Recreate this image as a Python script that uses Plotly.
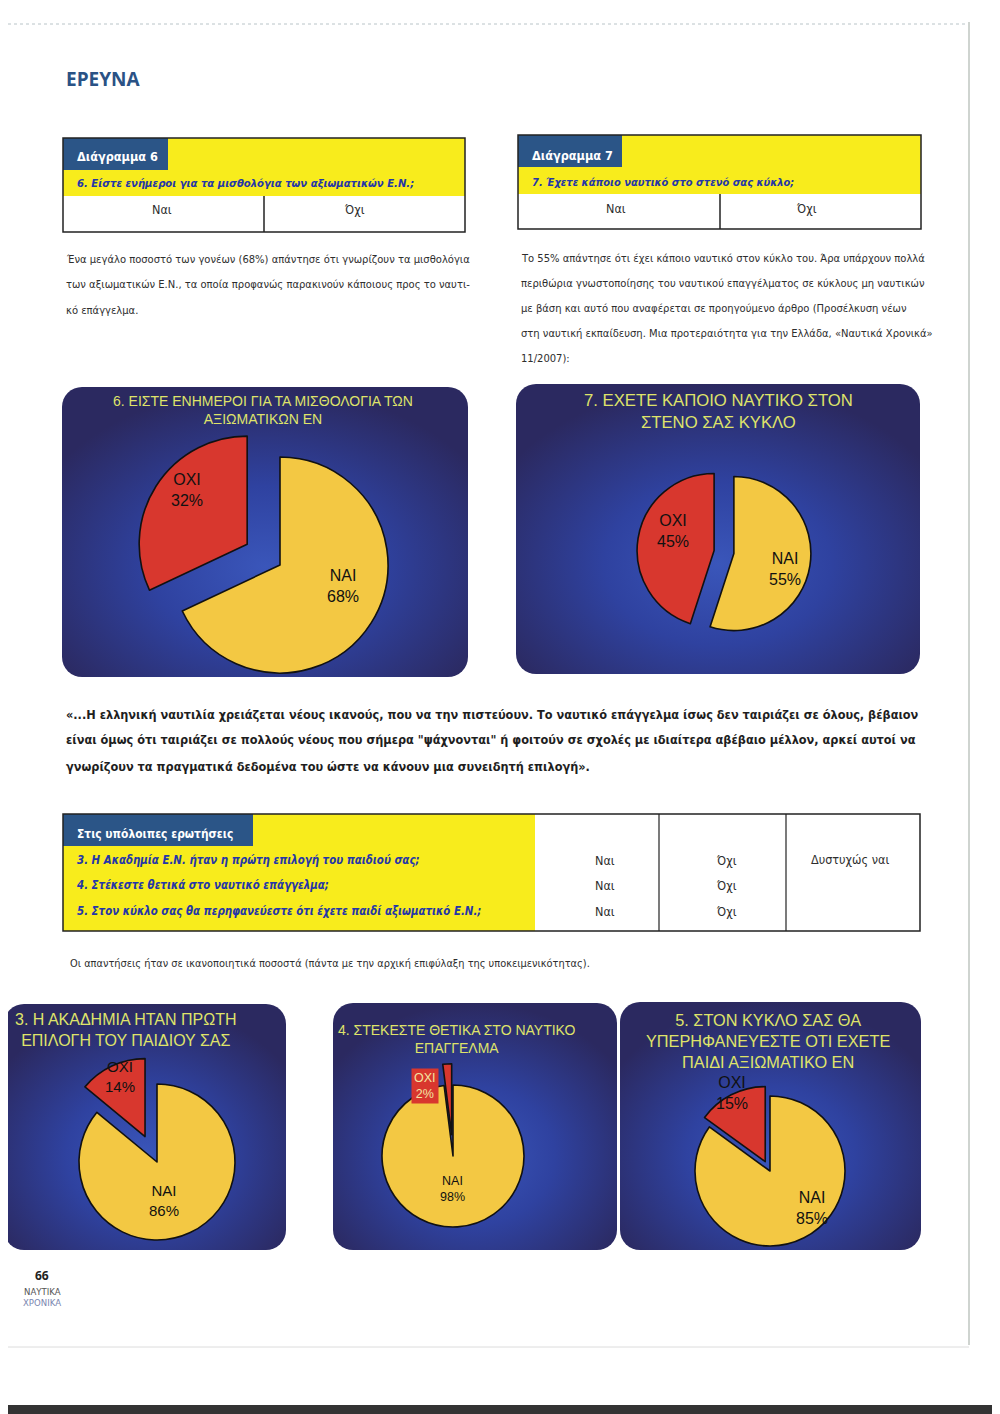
import base64
import plotly.graph_objects as go

# ---------------- data ----------------
chart_ids = ["6", "7", "3", "4", "5"]
chart_titles = [
    "6. ΕΙΣΤΕ ΕΝΗΜΕΡΟΙ ΓΙΑ ΤΑ ΜΙΣΘΟΛΟΓΙΑ ΤΩΝ<br>ΑΞΙΩΜΑΤΙΚΩΝ ΕΝ",
    "7. ΕΧΕΤΕ ΚΑΠΟΙΟ ΝΑΥΤΙΚΟ ΣΤΟΝ<br>ΣΤΕΝΟ ΣΑΣ ΚΥΚΛΟ",
    "3. Η ΑΚΑΔΗΜΙΑ ΗΤΑΝ ΠΡΩΤΗ<br>ΕΠΙΛΟΓΗ ΤΟΥ ΠΑΙΔΙΟΥ ΣΑΣ",
    "4. ΣΤΕΚΕΣΤΕ ΘΕΤΙΚΑ ΣΤΟ ΝΑΥΤΙΚΟ<br>ΕΠΑΓΓΕΛΜΑ",
    "5. ΣΤΟΝ ΚΥΚΛΟ ΣΑΣ ΘΑ<br>ΥΠΕΡΗΦΑΝΕΥΕΣΤΕ ΟΤΙ ΕΧΕΤΕ<br>ΠΑΙΔΙ ΑΞΙΩΜΑΤΙΚΟ ΕΝ",
]
slice_labels = ["ΝΑΙ", "ΟΧΙ"]
yes_values = [68, 55, 86, 98, 85]
no_values = [32, 45, 14, 2, 15]

page_title = "ΕΡΕΥΝΑ"
box6_tab = "Διάγραμμα 6"
box6_question = "6. Είστε ενήμεροι για τα μισθολόγια των αξιωματικών Ε.Ν.;"
box7_tab = "Διάγραμμα 7"
box7_question = "7. Έχετε κάποιο ναυτικό στο στενό σας κύκλο;"
answer_yes = "Ναι"
answer_no = "Όχι"
answer_sadly = "Δυστυχώς ναι"
para6_lines = [
    "Ένα μεγάλο ποσοστό των γονέων (68%) απάντησε ότι γνωρίζουν τα μισθολόγια",
    "των αξιωματικών Ε.Ν., τα οποία προφανώς παρακινούν κάποιους προς το ναυτι-",
    "κό επάγγελμα.",
]
para7_lines = [
    "Το 55% απάντησε ότι έχει κάποιο ναυτικό στον κύκλο του. Άρα υπάρχουν πολλά",
    "περιθώρια γνωστοποίησης του ναυτικού επαγγέλματος σε κύκλους μη ναυτικών",
    "με βάση και αυτό που αναφέρεται σε προηγούμενο άρθρο (Προσέλκυση νέων",
    "στη ναυτική εκπαίδευση. Μια προτεραιότητα για την Ελλάδα, «Ναυτικά Χρονικά»",
    "11/2007):",
]
quote_lines = [
    "«...Η ελληνική ναυτιλία χρειάζεται νέους ικανούς, που να την πιστεύουν. Το ναυτικό επάγγελμα ίσως δεν ταιριάζει σε όλους, βέβαιον",
    "είναι όμως ότι ταιριάζει σε πολλούς νέους που σήμερα \"ψάχνονται\" ή φοιτούν σε σχολές με ιδιαίτερα αβέβαιο μέλλον, αρκεί αυτοί να",
    "γνωρίζουν τα πραγματικά δεδομένα του ώστε να κάνουν μια συνειδητή επιλογή».",
]
rest_tab = "Στις υπόλοιπες ερωτήσεις"
rest_questions = [
    "3. Η Ακαδημία Ε.Ν. ήταν η πρώτη επιλογή του παιδιού σας;",
    "4. Στέκεστε θετικά στο ναυτικό επάγγελμα;",
    "5. Στον κύκλο σας θα περηφανεύεστε ότι έχετε παιδί αξιωματικό Ε.Ν.;",
]
note_text = "Οι απαντήσεις ήταν σε ικανοποιητικά ποσοστά (πάντα με την αρχική επιφύλαξη της υποκειμενικότητας)."
footer_page = "66"
footer_mag = ["ΝΑΥΤΙΚΑ", "ΧΡΟΝΙΚΑ"]

# ---------------- layout helpers ----------------
# page is 1000x1414; the html body has an 8px margin, so the figure is 992x1406
OFF = 8
FW, FH = 1000 - OFF, 1414 - OFF
NARROW = "DejaVu Sans Condensed, Liberation Sans Narrow, Roboto, sans-serif"
ARIAL = "Liberation Sans, Arial, sans-serif"
YELLOW_BOX = "#f8ec1c"
BLUE_TAB = "#2b5587"
Q_BLUE = "#2436a8"
TEXT = "#2e2e2e"
PIE_YELLOW = "#f3c843"
PIE_RED = "#d8372e"
TITLE_COL = "#dfe36a"


def px(x):
    return (x - OFF) / FW


def py(y):
    return 1 - (y - OFF) / FH


shapes, annotations, images = [], [], []


def rect(x0, y0, x1, y1, fill=None, line=None, lw=1.5, layer="below"):
    shapes.append(dict(type="rect", xref="paper", yref="paper",
                       x0=px(x0), x1=px(x1), y0=py(y1), y1=py(y0),
                       fillcolor=fill if fill else "rgba(0,0,0,0)",
                       line=dict(color=line if line else "rgba(0,0,0,0)", width=lw if line else 0),
                       layer=layer))


def line(x0, y0, x1, y1, color="#222", lw=1.5, dash="solid"):
    shapes.append(dict(type="line", xref="paper", yref="paper",
                       x0=px(x0), x1=px(x1), y0=py(y0), y1=py(y1),
                       line=dict(color=color, width=lw, dash=dash)))


def ann(x, y, text, size=14, color=TEXT, family=NARROW, xanchor="left", yanchor="middle", **kw):
    annotations.append(dict(x=px(x), y=py(y), xref="paper", yref="paper", text=text,
                            showarrow=False, xanchor=xanchor, yanchor=yanchor,
                            font=dict(size=size, color=color, family=family), **kw))


def panel(x0, y0, x1, y1, rx=20):
    w, h = x1 - x0, y1 - y0
    svg = (f'<svg xmlns="http://www.w3.org/2000/svg" width="{w}" height="{h}" viewBox="0 0 {w} {h}" preserveAspectRatio="none">'
           '<defs><radialGradient id="g" cx="50%" cy="62%" r="62%">'
           '<stop offset="0" stop-color="#3a56ba"/><stop offset="0.45" stop-color="#2f42a0"/>'
           '<stop offset="1" stop-color="#2b2960"/></radialGradient></defs>'
           f'<rect x="0" y="0" width="{w}" height="{h}" rx="{rx}" ry="{rx}" fill="url(#g)"/></svg>')
    src = "data:image/svg+xml;base64," + base64.b64encode(svg.encode("utf-8")).decode("ascii")
    images.append(dict(source=src, xref="paper", yref="paper", x=px(x0), y=py(y0),
                       sizex=w / FW, sizey=h / FH, sizing="stretch",
                       xanchor="left", yanchor="top", layer="below"))


# ---------------- page decorations ----------------
line(8, 24, 968, 24, color="#b9c4c8", lw=1, dash="dot")
line(969, 22, 969, 1345, color="#cfd4d0", lw=2)
line(8, 1347, 969, 1347, color="#dcdcdc", lw=1)
rect(8, 1405, 1000, 1414, fill="#333333")

ann(64, 79, f"<b>{page_title}</b>", size=19, color="#2a5285", family="Open Sans, sans-serif")

# ---------------- box 6 ----------------
rect(63, 138, 465, 196, fill=YELLOW_BOX)
rect(63, 138, 168, 170, fill=BLUE_TAB)
rect(63, 138, 465, 232, line="#222", lw=1.5)
line(264, 196, 264, 232)
ann(75, 156, f"<b>{box6_tab}</b>", size=12.6, color="white")
ann(75, 183, f"<b><i>{box6_question}</i></b>", size=11.2, color=Q_BLUE)
ann(162, 210, answer_yes, size=12.5, xanchor="center")
ann(354, 210, answer_no, size=12.5, xanchor="center")
for i, t in enumerate(para6_lines):
    ann(64, 259 + 25.5 * i, t, size=11.1)

# ---------------- box 7 ----------------
rect(518, 135, 921, 194, fill=YELLOW_BOX)
rect(518, 135, 622, 167, fill=BLUE_TAB)
rect(518, 135, 921, 229, line="#222", lw=1.5)
line(720, 194, 720, 229)
ann(530, 155, f"<b>{box7_tab}</b>", size=12.6, color="white")
ann(530, 182, f"<b><i>{box7_question}</i></b>", size=11.0, color=Q_BLUE)
ann(616, 208, answer_yes, size=12.5, xanchor="center")
ann(806, 208, answer_no, size=12.5, xanchor="center")
for i, t in enumerate(para7_lines):
    ann(519, 258 + 25.2 * i, t, size=11.1)

# ---------------- quote ----------------
for i, t in enumerate(quote_lines):
    ann(64, 714 + 26 * i, f"<b>{t}</b>", size=12.6, color="#1e1e1e")

# ---------------- rest table ----------------
rect(63, 814, 535, 931, fill=YELLOW_BOX)
rect(63, 814, 253, 846, fill=BLUE_TAB)
rect(63, 814, 920, 931, line="#222", lw=1.5)
line(659, 814, 659, 931, lw=1.2)
line(786, 814, 786, 931, lw=1.2)
ann(75, 834, f"<b>{rest_tab}</b>", size=11.9, color="white")
for i, q in enumerate(rest_questions):
    ann(75, 860 + 25.5 * i, f"<b><i>{q}</i></b>", size=11.4, color=Q_BLUE)
    ann(605, 860 + 25.5 * i, answer_yes, size=12.5, xanchor="center")
    ann(726, 860 + 25.5 * i, answer_no, size=12.5, xanchor="center")
ann(850, 859, answer_sadly, size=12.5, xanchor="center")
ann(68, 963, note_text, size=10.9)

# ---------------- footer ----------------
ann(42, 1275, f"<b>{footer_page}</b>", size=12, color="#222", family="Open Sans, sans-serif", xanchor="center")
ann(42, 1291, footer_mag[0], size=9.5, color="#555", xanchor="center")
ann(42, 1302, footer_mag[1], size=9.5, color="#7a86b0", xanchor="center")

# ---------------- chart panels ----------------
panels = [(62, 387, 468, 677), (516, 384, 920, 674), (4, 1004, 286, 1250),
          (333, 1003, 617, 1250), (620, 1002, 921, 1250)]
# pie centre (px), radius (px), pull per slice [yes, no]
pie_geom = [((280, 565), 108, [0, 0.36]),
            ((724, 552), 77, [0.13, 0.13]),
            ((157, 1162), 78, [0, 0.36]),
            ((453, 1156), 71, [0, 0.3]),
            ((770, 1171), 75, [0, 0.14])]
title_pos = [((263, 410), 14), ((718, 412), 16.7), ((126, 1030), 16), ((457, 1039), 14), ((768, 1041), 16.3)]
yes_lbl_pos = [((343, 586), 16), ((785, 569), 16), ((164, 1200), 15), ((452, 1189), 12.5), ((812, 1208), 16)]
no_lbl_pos = [((187, 490), 16), ((673, 531), 16), ((120, 1076), 15), ((425, 1086), 12.5), ((732, 1093), 16)]

fig = go.Figure()
for i in range(len(chart_ids)):
    panel(*panels[i])
    (cx, cy), r, pull = pie_geom[i]
    half = r * (1 + max(pull))
    fig.add_trace(go.Pie(
        labels=slice_labels, values=[yes_values[i], no_values[i]],
        sort=False, direction="clockwise", rotation=0, pull=pull,
        marker=dict(colors=[PIE_YELLOW, PIE_RED], line=dict(color="#111111", width=1.6)),
        textinfo="none", hoverinfo="label+percent", showlegend=False,
        name=f"Διάγραμμα {chart_ids[i]}",
        domain=dict(x=[px(cx - half), px(cx + half)], y=[py(cy + half), py(cy - half)]),
    ))
    (tx, ty), ts = title_pos[i]
    ann(tx, ty, chart_titles[i], size=ts, color=TITLE_COL, family=ARIAL, xanchor="center")
    (yx, yy), ys = yes_lbl_pos[i]
    ann(yx, yy, f"{slice_labels[0]}<br>{yes_values[i]}%", size=ys, color="#111", family=ARIAL, xanchor="center")
    (nx, ny), ns = no_lbl_pos[i]
    if no_values[i] < 5:
        ann(nx, ny, f"{slice_labels[1]}<br>{no_values[i]}%", size=ns, color="#f3e4a2", family=ARIAL,
            xanchor="center", bgcolor=PIE_RED, borderpad=2)
    else:
        ann(nx, ny, f"{slice_labels[1]}<br>{no_values[i]}%", size=ns, color="#111", family=ARIAL, xanchor="center")

fig.update_layout(width=FW, height=FH, margin=dict(l=0, r=0, t=0, b=0),
                  paper_bgcolor="white", plot_bgcolor="white",
                  shapes=shapes, annotations=annotations, images=images)
fig.write_html("out.html")
